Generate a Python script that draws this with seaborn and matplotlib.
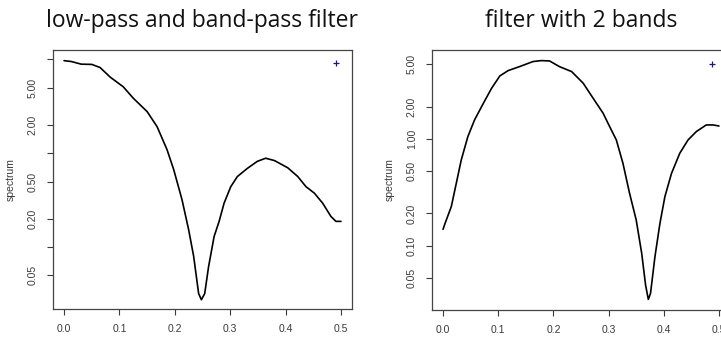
import numpy as np
import pandas as pd
import matplotlib
matplotlib.use("Agg")
import matplotlib.pyplot as plt
import seaborn as sns

# data
freq_lp = [0, 0.013, 0.031, 0.05, 0.065, 0.083, 0.107, 0.125, 0.15, 0.168, 0.186, 0.198,
           0.213, 0.225, 0.234, 0.243, 0.248, 0.254, 0.261, 0.271, 0.28, 0.289, 0.301,
           0.313, 0.331, 0.349, 0.364, 0.38, 0.404, 0.422, 0.437, 0.452, 0.467, 0.482,
           0.491, 0.5]
spec_lp = [9.7, 9.5, 8.9, 8.85, 8.2, 6.5, 5.1, 3.86, 2.78, 1.92, 1.09, 0.67,
           0.32, 0.153, 0.080, 0.032, 0.0275, 0.032, 0.062, 0.130, 0.188, 0.294, 0.44,
           0.565, 0.69, 0.82, 0.885, 0.836, 0.70, 0.565, 0.44, 0.376, 0.294, 0.212,
           0.188, 0.188]

freq_2b = [0, 0.0036, 0.015, 0.024, 0.033, 0.045, 0.057, 0.073, 0.088, 0.103, 0.118,
           0.139, 0.163, 0.178, 0.193, 0.211, 0.233, 0.254, 0.272, 0.29, 0.302, 0.314,
           0.326, 0.338, 0.35, 0.36, 0.367, 0.372, 0.376, 0.384, 0.393, 0.402, 0.414,
           0.429, 0.444, 0.459, 0.477, 0.489, 0.5]
spec_2b = [0.142, 0.161, 0.232, 0.383, 0.634, 1.05, 1.50, 2.15, 2.98, 3.89, 4.36,
           4.76, 5.30, 5.41, 5.37, 4.75, 4.27, 3.32, 2.40, 1.74, 1.30, 0.977,
           0.59, 0.309, 0.174, 0.0845, 0.0427, 0.0313, 0.0357, 0.0787, 0.161, 0.287, 0.475,
           0.733, 0.977, 1.17, 1.35, 1.35, 1.32]

# bandwidth cross marks
cross_lp = (0.4915, 9.08)
cross_2b = (0.488, 5.0)

titles = ["low-pass and band-pass filter", "filter with 2 bands"]
xticks = [0.0, 0.1, 0.2, 0.3, 0.4, 0.5]
xticklabels = ["0.0", "0.1", "0.2", "0.3", "0.4", "0.5"]
yticks_lp = [0.05, 0.1, 0.2, 0.5, 1, 2, 5, 10]
yticklabels_lp = ["0.05", "", "0.20", "0.50", "", "2.00", "5.00", ""]
yticks_2b = [0.05, 0.1, 0.2, 0.5, 1, 2, 5]
yticklabels_2b = ["0.05", "0.10", "0.20", "0.50", "1.00", "2.00", "5.00"]

sns.set_style("white")
plt.rcParams['font.family'] = ['Liberation Sans', 'DejaVu Sans']

fig = plt.figure(figsize=(7.21, 3.39), dpi=100)
ax1 = fig.add_axes([53 / 721, 30 / 339, 299 / 721, 259 / 339])
ax2 = fig.add_axes([432 / 721, 29 / 339, 298 / 721, 260 / 339])

panels = [
    (ax1, freq_lp, spec_lp, cross_lp, yticks_lp, yticklabels_lp, (0.0219, 12.6)),
    (ax2, freq_2b, spec_2b, cross_2b, yticks_2b, yticklabels_2b, (0.0249, 6.8)),
]

tick_col = "#3a3a3a"
for i, (ax, fx, sy, cross, yt, ylabs, ylim) in enumerate(panels):
    df = pd.DataFrame({"frequency": fx, "spectrum": sy})
    sns.lineplot(data=df, x="frequency", y="spectrum", ax=ax, color="black", linewidth=1.2)
    ax.plot([cross[0]], [cross[1]], marker="+", color="#1a1a6e", markersize=5, mew=0.9)
    ax.set_yscale("log")
    ax.set_xticks(xticks)
    ax.set_xticklabels(xticklabels, fontsize=7.5, color=tick_col)
    ax.set_yticks(yt)
    ax.set_yticklabels(ylabs, fontsize=7.5, color=tick_col, rotation=90, va="center")
    ax.minorticks_off()
    ax.set_xlim(-0.02, 0.52)
    ax.set_ylim(*ylim)
    ax.tick_params(axis="both", direction="out", length=4, width=0.8, color=tick_col,
                   bottom=True, left=True, pad=7)
    ax.set_xlabel("")
    ax.set_ylabel("spectrum", fontsize=7.5, color=tick_col, labelpad=9)
    for s in ax.spines.values():
        s.set_visible(True)
        s.set_color("#444444")
        s.set_linewidth(0.9)
    pos = ax.get_position()
    fig.text((pos.x0 + pos.x1) / 2, 1 - 27 / 339, titles[i], ha="center", va="baseline",
             fontsize=16.5, family=["Open Sans", "DejaVu Sans"], color="#111111")

fig.savefig("out.png", dpi=100)
